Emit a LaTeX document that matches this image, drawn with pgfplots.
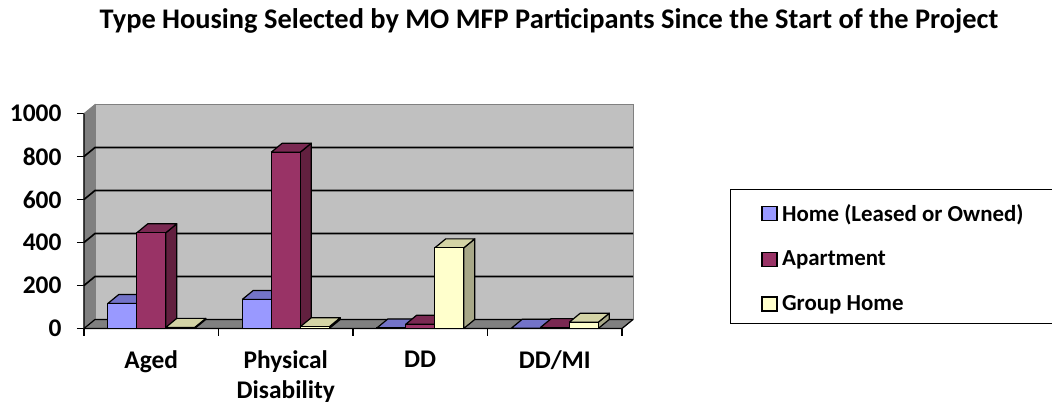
\documentclass[border=0pt]{standalone}
\usepackage{pgfplots}
\pgfplotsset{compat=1.18}
\usepackage{pgfplotstable}
\usepackage{fontspec}
\setmainfont{Carlito}

\definecolor{homeF}{HTML}{9999FF}
\definecolor{homeT}{HTML}{7373C8}
\definecolor{homeS}{HTML}{5C5CA0}
\definecolor{aptF}{HTML}{993366}
\definecolor{aptT}{HTML}{7A2952}
\definecolor{aptS}{HTML}{62203F}
\definecolor{grpF}{HTML}{FFFFCC}
\definecolor{grpT}{HTML}{D4D4A6}
\definecolor{grpS}{HTML}{A8A888}
\definecolor{wallC}{HTML}{C0C0C0}
\definecolor{sideC}{HTML}{808080}

\pgfplotstableread{
cat home apt grp
0 116 445 5
1 135 820 8
2 2 20 375
3 1 4 29
}\housing

\def\bw{0.2156}
\def\ddx{0.0818}
\def\ddy{42}

\newcommand\sidetop[4]{%
  \pgfmathsetmacro\xa{#1}%
  \pgfmathsetmacro\xb{#1+\bw}%
  \pgfmathsetmacro\xc{#1+\bw+\ddx}%
  \pgfmathsetmacro\xd{#1+\ddx}%
  \pgfmathsetmacro\yt{#2+\ddy}%
  \addplot[forget plot, fill=#4, draw=black, line width=1.2bp, line join=round]
    coordinates {(\xb,0) (\xc,\ddy) (\xc,\yt) (\xb,#2) (\xb,0)};
  \addplot[forget plot, fill=#3, draw=black, line width=1.2bp, line join=round]
    coordinates {(\xa,#2) (\xd,\yt) (\xc,\yt) (\xb,#2) (\xa,#2)};
}
\newcommand\facesat[5]{%
  \pgfplotstablegetelem{#1}{#2}\of\housing
  \let\myval\pgfplotsretval
  \pgfmathsetmacro\myx{#1+0.5+(#3-1.5)*\bw}%
  \sidetop{\myx}{\myval}{#4}{#5}%
}
\newcommand\seriesfaces[4]{%
  \facesat{0}{#1}{#2}{#3}{#4}%
  \facesat{1}{#1}{#2}{#3}{#4}%
  \facesat{2}{#1}{#2}{#3}{#4}%
  \facesat{3}{#1}{#2}{#3}{#4}%
}

\begin{document}
\begin{tikzpicture}
\useasboundingbox (0,0) rectangle (1052bp,406bp);
\begin{axis}[
  at={(84bp,77.5bp)}, anchor=origin,
  x=134.5bp, y=0.215bp,
  xmin=0, xmax=4.0818, ymin=0, ymax=1042,
  axis x line*=bottom, axis y line*=left,
  axis line style={draw=none},
  clip=false,
  tick align=outside,
  major tick length=7bp,
  tick style={black, line width=1.2bp},
  ytick={0,200,400,600,800,1000},
  yticklabels={0,200,400,600,800,1000},
  xtick={0,1,2,3,4}, xticklabels={},
  extra x ticks={0.5,1.5,2.5,3.5},
  extra x tick labels={Aged,{Physical\\Disability},DD,DD/MI},
  extra x tick style={major tick length=0pt},
  ticklabel style={font=\bfseries\fontsize{25.5}{30}\selectfont},
  yticklabel style={xshift=-12bp},
  xticklabel style={align=center, yshift=-19bp},
  legend style={draw=none, fill=none, at={(1.2277,0.574)}, anchor=north west,
    font=\bfseries\fontsize{23}{28}\selectfont, row sep=24.5bp,
    legend cell align=left},
]
% walls and floor
\addplot[forget plot, fill=wallC, draw=sideC, line width=0.8bp]
  coordinates {(0.0818,42) (4.0818,42) (4.0818,1042) (0.0818,1042) (0.0818,42)};
\addplot[forget plot, fill=sideC, draw=sideC, line width=0.8bp]
  coordinates {(0,0) (0.0818,42) (0.0818,1042) (0,1000) (0,0)};
\addplot[forget plot, fill=sideC, draw=sideC, line width=0.8bp]
  coordinates {(0,0) (4,0) (4.0818,42) (0.0818,42) (0,0)};
% gridlines
\addplot[forget plot, black, line width=1.6bp] coordinates {(0,200) (0.0818,242) (4.0818,242)};
\addplot[forget plot, black, line width=1.6bp] coordinates {(0,400) (0.0818,442) (4.0818,442)};
\addplot[forget plot, black, line width=1.6bp] coordinates {(0,600) (0.0818,642) (4.0818,642)};
\addplot[forget plot, black, line width=1.6bp] coordinates {(0,800) (0.0818,842) (4.0818,842)};
\addplot[forget plot, black, line width=1.2bp] coordinates {(0,0) (0.0818,42) (4.0818,42)};
% front edges
\addplot[forget plot, black, line width=1.2bp] coordinates {(0,1000) (0,0) (4,0) (4.0818,42)};
% bars: Home
\seriesfaces{home}{0}{homeT}{homeS}
\addplot[forget plot, ybar, bar width=0.2156, bar shift=-0.2156, fill=homeF, draw=black, line width=1.2bp]
  table[x expr=\thisrow{cat}+0.5, y=home]{\housing};
% Apartment
\seriesfaces{apt}{1}{aptT}{aptS}
\addplot[forget plot, ybar, bar width=0.2156, bar shift=0, fill=aptF, draw=black, line width=1.2bp]
  table[x expr=\thisrow{cat}+0.5, y=apt]{\housing};
% Group home
\seriesfaces{grp}{2}{grpT}{grpS}
\addplot[forget plot, ybar, bar width=0.2156, bar shift=0.2156, fill=grpF, draw=black, line width=1.2bp]
  table[x expr=\thisrow{cat}+0.5, y=grp]{\housing};
% legend
\addlegendimage{legend image code/.code={\draw[fill=homeF, draw=black, line width=1.5bp] (0bp,-7bp) rectangle (15bp,7bp); \path (18bp,0bp);}}
\addlegendentry{Home (Leased or Owned)}
\addlegendimage{legend image code/.code={\draw[fill=aptF, draw=black, line width=1.5bp] (0bp,-7bp) rectangle (15bp,7bp); \path (18bp,0bp);}}
\addlegendentry{Apartment}
\addlegendimage{legend image code/.code={\draw[fill=grpF, draw=black, line width=1.5bp] (0bp,-7bp) rectangle (15bp,7bp); \path (18bp,0bp);}}
\addlegendentry{Group Home}
\end{axis}
\draw[black, line width=1bp] (730bp,82bp) rectangle (1070bp,216bp);
\node[font=\bfseries\fontsize{28.5}{32}\selectfont, anchor=base] at (549bp,377bp)
  {Type Housing Selected by MO MFP Participants Since the Start of the Project};
\end{tikzpicture}
\end{document}
